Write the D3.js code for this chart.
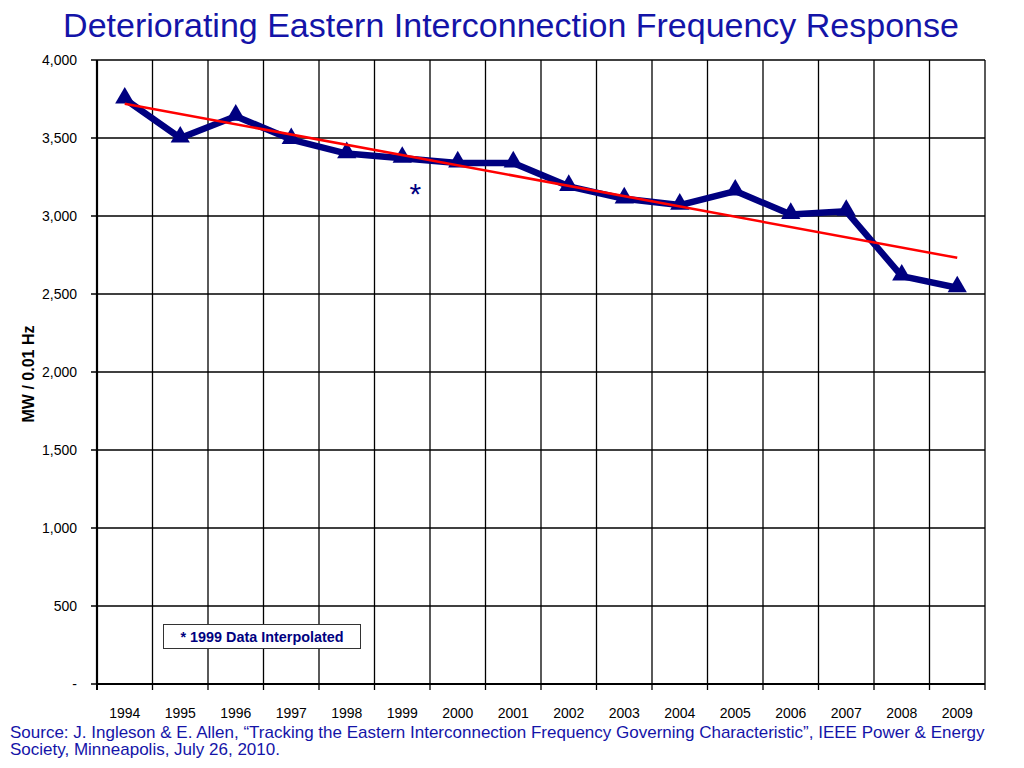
<!DOCTYPE html>
<html>
<head>
<meta charset="utf-8">
<script src="https://cdn.jsdelivr.net/npm/d3@7"></script>
<style>
body { margin: 0; background: #fff; }
text { font-family: Arial, "Liberation Sans", sans-serif; }
</style>
</head>
<body>
<script>
// values
var years = ["1994","1995","1996","1997","1998","1999","2000","2001","2002","2003","2004","2005","2006","2007","2008","2009"];
var response = [3750, 3500, 3640, 3490, 3400, 3370, 3340, 3340, 3190, 3110, 3070, 3160, 3010, 3030, 2615, 2540];
var trendYears = ["1994", "2009"];
var trendValues = [3720, 2732];
var yTicks = [0, 500, 1000, 1500, 2000, 2500, 3000, 3500, 4000];

var width = 1024, height = 768;
var plotLeft = 97, plotRight = 985, plotTop = 60, plotBottom = 684;
var navy = "#000080";

var svg = d3.select("body").append("svg")
	.attr("width", width)
	.attr("height", height);

var x = d3.scaleBand().domain(years).range([plotLeft, plotRight]);
var y = d3.scaleLinear().domain([0, 4000]).range([plotBottom, plotTop]);

// title
svg.append("text")
	.attr("x", 511)
	.attr("y", 37)
	.attr("text-anchor", "middle")
	.style("font-size", "34px")
	.style("fill", "#1414a8")
	.text("Deteriorating Eastern Interconnection Frequency Response");

// horizontal grid
svg.append("g").selectAll("line")
	.data(yTicks)
	.enter()
	.append("line")
	.attr("x1", plotLeft - 6)
	.attr("x2", plotRight)
	.attr("y1", d => y(d))
	.attr("y2", d => y(d))
	.attr("stroke", "#000")
	.attr("stroke-width", 1.3);

// vertical grid at category boundaries
var bounds = years.map(d => x(d)).concat([plotRight]);
svg.append("g").selectAll("line")
	.data(bounds)
	.enter()
	.append("line")
	.attr("x1", d => d)
	.attr("x2", d => d)
	.attr("y1", plotTop)
	.attr("y2", plotBottom + 6)
	.attr("stroke", "#000")
	.attr("stroke-width", (d, i) => i == 0 ? 2 : 1.3);

// axes lines
svg.append("line")
	.attr("x1", plotLeft).attr("x2", plotRight)
	.attr("y1", plotBottom).attr("y2", plotBottom)
	.attr("stroke", "#000").attr("stroke-width", 2.2);
svg.append("line")
	.attr("x1", plotLeft).attr("x2", plotLeft)
	.attr("y1", plotTop).attr("y2", plotBottom)
	.attr("stroke", "#000").attr("stroke-width", 2.2);

// y tick labels
svg.append("g").selectAll("text")
	.data(yTicks)
	.enter()
	.append("text")
	.attr("x", 77)
	.attr("y", d => y(d) + 5)
	.attr("text-anchor", "end")
	.style("font-size", "14px")
	.text(d => d == 0 ? "-" : d3.format(",")(d));

// x tick labels
svg.append("g").selectAll("text")
	.data(years)
	.enter()
	.append("text")
	.attr("x", d => x(d) + x.bandwidth() / 2)
	.attr("y", 718)
	.attr("text-anchor", "middle")
	.style("font-size", "14px")
	.text(d => d);

// y axis title
svg.append("text")
	.attr("transform", "translate(34,374) rotate(-90)")
	.attr("text-anchor", "middle")
	.style("font-size", "16px")
	.style("font-weight", "bold")
	.text("MW / 0.01 Hz");

var cx = d => x(d) + x.bandwidth() / 2;

// data line
var line = d3.line()
	.x((d, i) => cx(years[i]))
	.y(d => y(d));

svg.append("path")
	.datum(response)
	.attr("d", line)
	.attr("fill", "none")
	.attr("stroke", navy)
	.attr("stroke-width", 6.5)
	.attr("stroke-linejoin", "round");

// triangle markers
svg.append("g").selectAll("path")
	.data(response)
	.enter()
	.append("path")
	.attr("d", d3.symbol().type(d3.symbolTriangle).size(160))
	.attr("transform", (d, i) => "translate(" + cx(years[i]) + "," + (y(d) - 1) + ")")
	.attr("fill", navy);

// trend line
svg.append("line")
	.attr("x1", cx(trendYears[0]))
	.attr("y1", y(trendValues[0]))
	.attr("x2", cx(trendYears[1]))
	.attr("y2", y(trendValues[1]))
	.attr("stroke", "#ff0000")
	.attr("stroke-width", 2.5);

// asterisk near 1999
svg.append("text")
	.attr("x", cx("1999") + 13)
	.attr("y", y(response[5]) + 46)
	.attr("text-anchor", "middle")
	.style("font-size", "30px")
	.style("fill", navy)
	.text("*");

// note box
svg.append("rect")
	.attr("x", 163.5)
	.attr("y", 624.5)
	.attr("width", 197)
	.attr("height", 24)
	.attr("fill", "#fff")
	.attr("stroke", "#333")
	.attr("stroke-width", 1);
svg.append("text")
	.attr("x", 262)
	.attr("y", 642)
	.attr("text-anchor", "middle")
	.style("font-size", "15px")
	.style("font-weight", "bold")
	.style("fill", navy)
	.attr("textLength", 163)
	.attr("lengthAdjust", "spacingAndGlyphs")
	.text("* 1999 Data Interpolated");

// source
var src = svg.append("text")
	.style("font-size", "17px")
	.style("fill", "#1414a8");
src.append("tspan")
	.attr("x", 10).attr("y", 738)
	.text("Source: J. Ingleson & E. Allen, \u201cTracking the Eastern Interconnection Frequency Governing Characteristic\u201d, IEEE Power & Energy");
src.append("tspan")
	.attr("x", 10).attr("y", 755)
	.text("Society, Minneapolis, July 26, 2010.");
</script>
</body>
</html>
